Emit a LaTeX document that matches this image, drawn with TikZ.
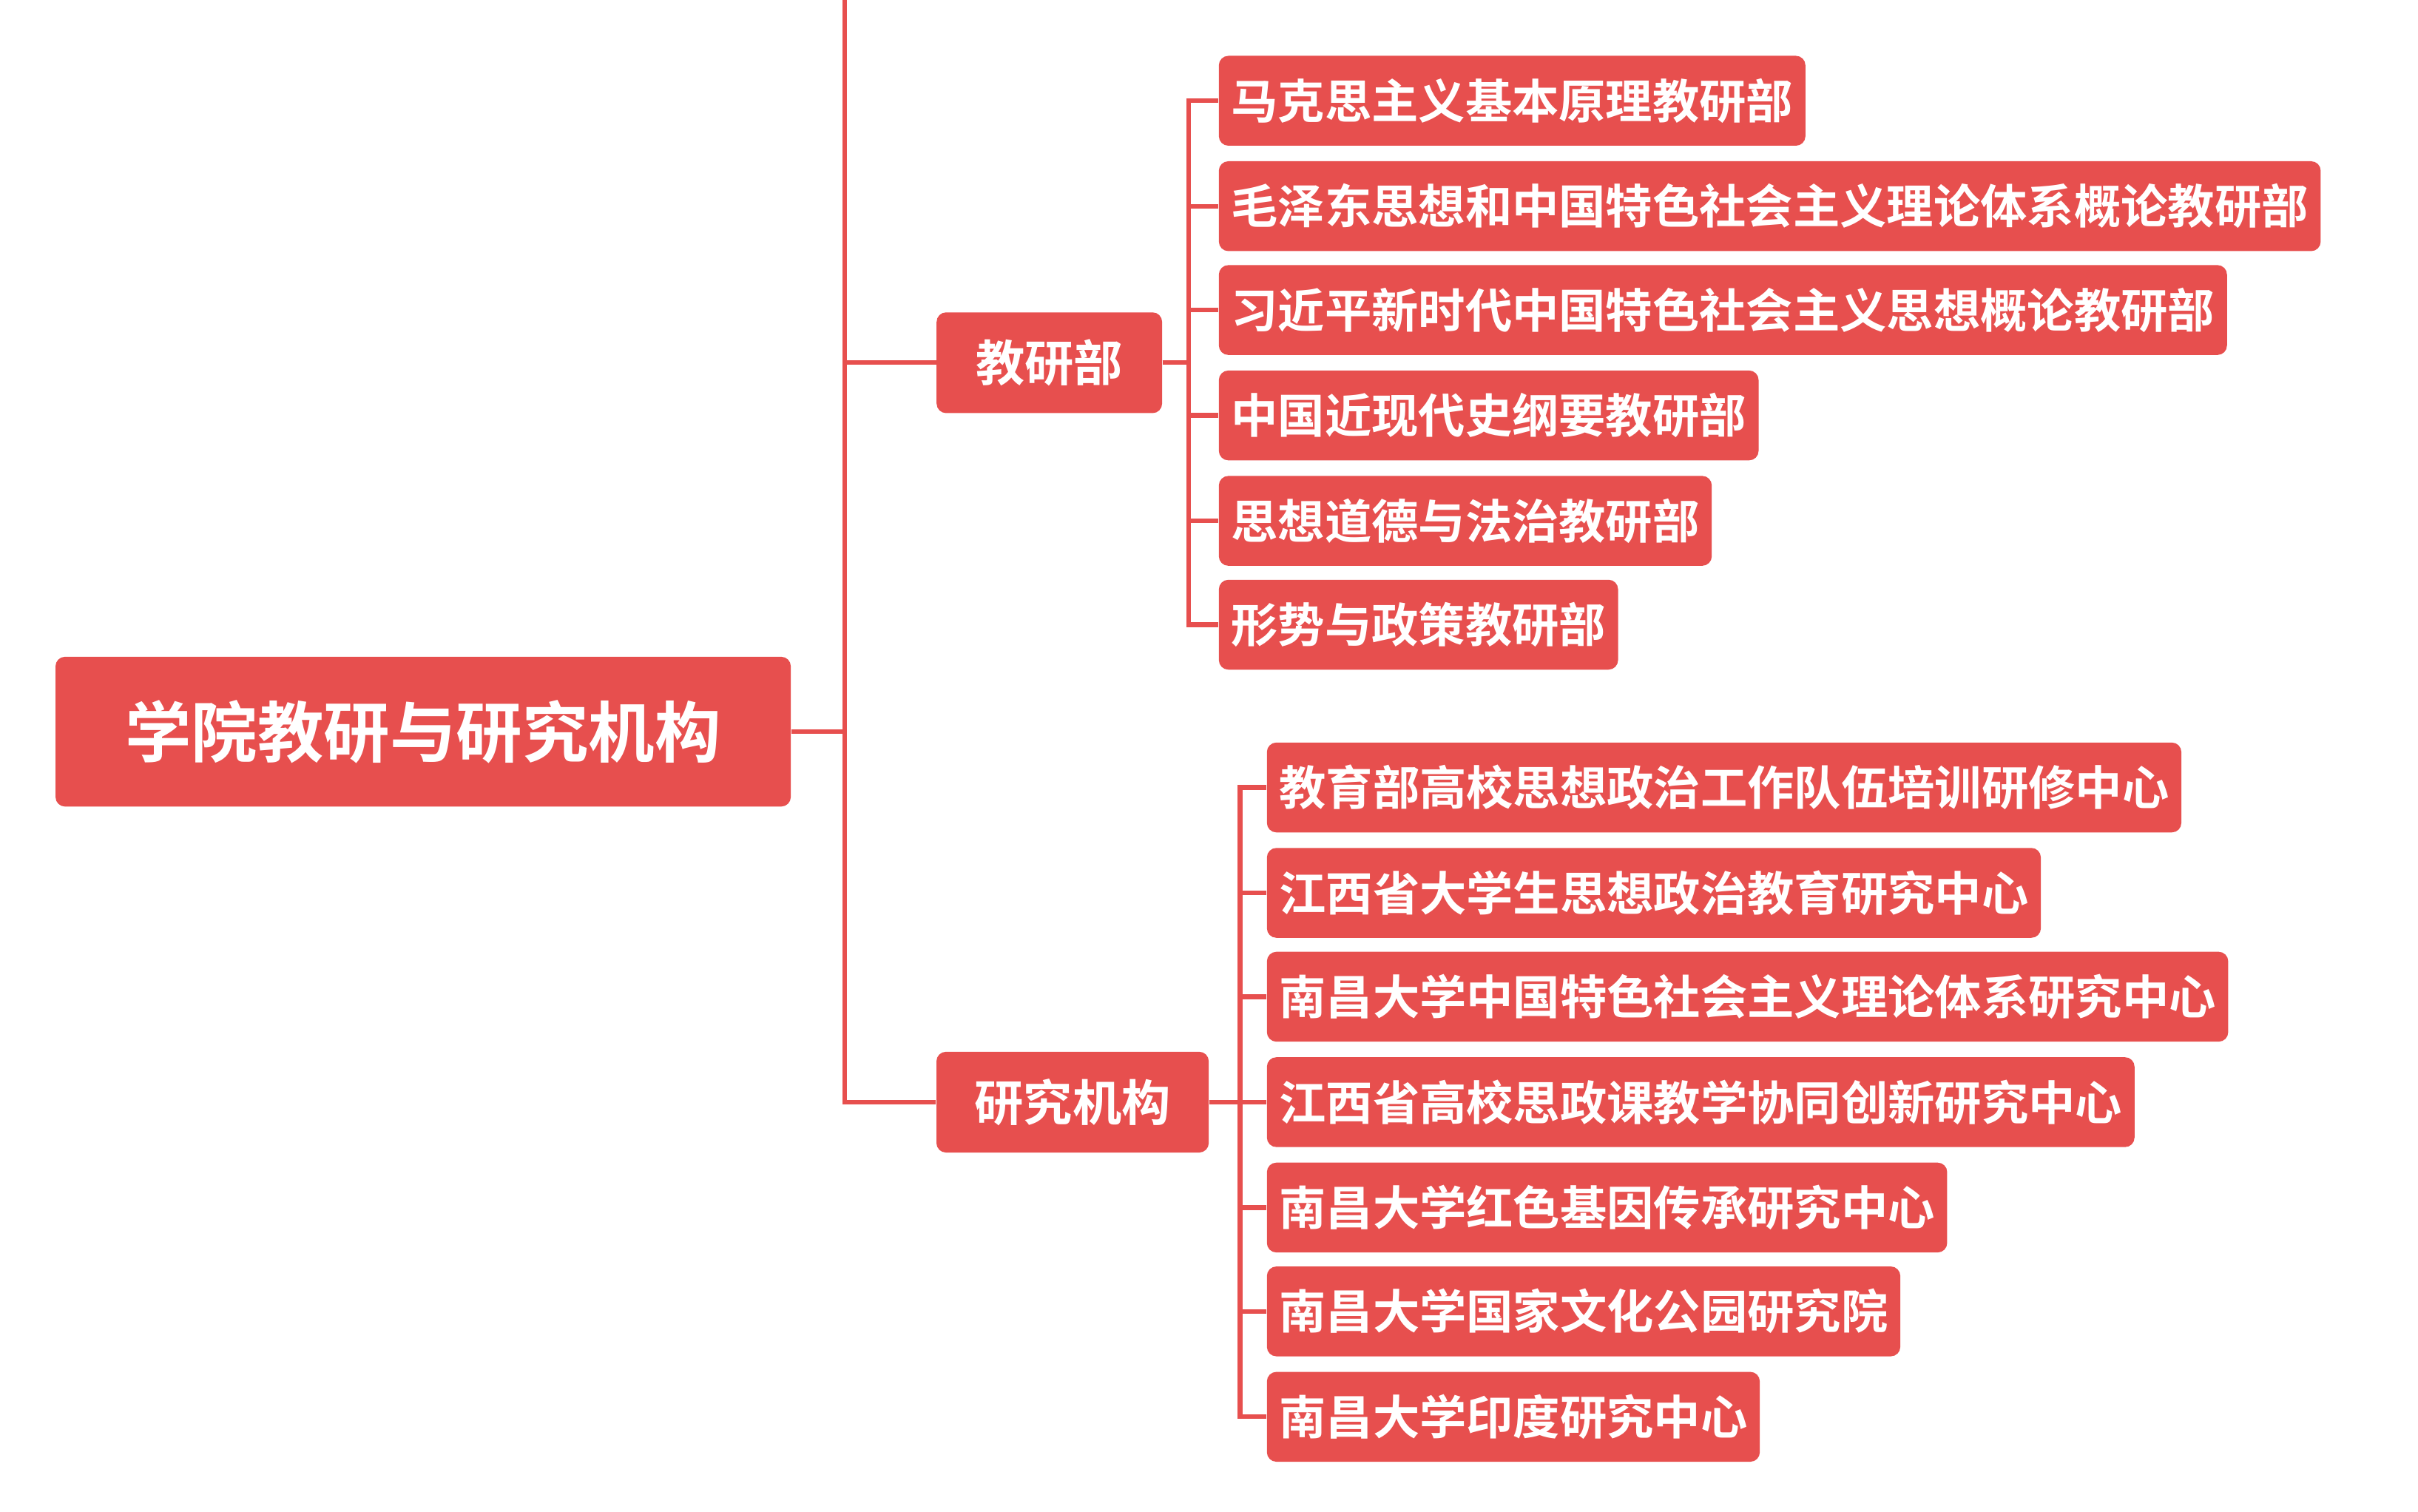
\documentclass[tikz,border=0pt]{standalone}
\usepackage{fontspec}
\setmainfont{Noto Sans CJK SC}[BoldFont={Noto Sans CJK SC Bold}]
\definecolor{rc}{HTML}{E74F4E}
\begin{document}
\begin{tikzpicture}[x=0.02cm,y=-0.02cm,
 box/.style={fill=rc,text=white,font=\bfseries,rounded corners=3.5pt,inner ysep=0pt},
 root/.style={box,font=\bfseries\fontsize{24.3}{26}\selectfont,minimum width=270pt,minimum height=55pt},
 mid/.style={box,font=\bfseries\fontsize{18}{20}\selectfont,minimum height=37pt},
 leaf/.style={box,font=\bfseries\fontsize{17.2}{19}\selectfont,minimum height=33pt,inner xsep=4.5pt,anchor=west},
 ln/.style={draw=rc,line width=1.7pt}]
\useasboundingbox (0,0) rectangle (1560,975);
\node[root] (r) at (273,472) {学院教研与研究机构};
\node[mid,minimum width=82.8pt] (m1) at (677,234) {教研部};
\node[mid,minimum width=100pt] (m2) at (692,711) {研究机构};
\coordinate (t) at (545,0);
\coordinate (b1) at (767,0);
\coordinate (b2) at (800,0);
\node[leaf] (a1) at (786,65) {马克思主义基本原理教研部};
\node[leaf] (a2) at (786,133) {毛泽东思想和中国特色社会主义理论体系概论教研部};
\node[leaf] (a3) at (786,200) {习近平新时代中国特色社会主义思想概论教研部};
\node[leaf] (a4) at (786,268) {中国近现代史纲要教研部};
\node[leaf] (a5) at (786,336) {思想道德与法治教研部};
\node[leaf] (a6) at (786,403) {形势与政策教研部};
\node[leaf] (c1) at (817,508) {教育部高校思想政治工作队伍培训研修中心};
\node[leaf] (c2) at (817,576) {江西省大学生思想政治教育研究中心};
\node[leaf] (c3) at (817,643) {南昌大学中国特色社会主义理论体系研究中心};
\node[leaf] (c4) at (817,711) {江西省高校思政课教学协同创新研究中心};
\node[leaf] (c5) at (817,779) {南昌大学红色基因传承研究中心};
\node[leaf] (c6) at (817,846) {南昌大学国家文化公园研究院};
\node[leaf] (c7) at (817,914) {南昌大学印度研究中心};
\draw[ln] (r.east) -- (r.east -| t);
\draw[ln] (m1.west) -| (t) |- (m2.west);
\draw[ln] (m1.west -| t) -- (m1.west);
\foreach \n in {a1,a2,a3,a4,a5,a6} \draw[ln] (m1.east) -- (m1.east -| b1) |- (\n.west);
\foreach \n in {c1,c2,c3,c4,c5,c6,c7} \draw[ln] (m2.east) -- (m2.east -| b2) |- (\n.west);
\end{tikzpicture}
\end{document}
